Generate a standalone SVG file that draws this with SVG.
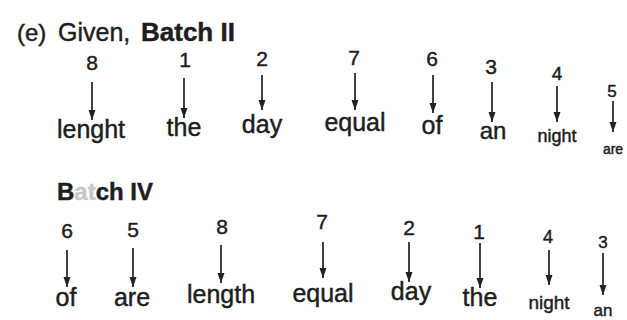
<svg xmlns="http://www.w3.org/2000/svg" width="627" height="320" viewBox="0 0 627 320">
<style>
  text { font-family: "Liberation Sans", Arial, sans-serif; fill: #1e1e1e; stroke: #1e1e1e; stroke-width: 0.45; }
  .num { font-size: 21px; text-anchor: middle; }
  .num-s { font-size: 17px; text-anchor: middle; }
  .word { font-size: 25px; text-anchor: middle; }
  .word-s { font-size: 18px; text-anchor: middle; }
  .word-xs { font-size: 14px; text-anchor: middle; }
  .head { font-size: 25px; }
  .bold { font-weight: bold; }
  .arrow { stroke: #222; stroke-width: 1.7; fill: none; marker-end: url(#ah); }
</style>
<defs>
  <marker id="ah" markerUnits="userSpaceOnUse" markerWidth="11" markerHeight="8" refX="10" refY="3.5" orient="auto">
    <path d="M0,0 L10,3.5 L0,7 z" fill="#222"/>
  </marker>
</defs>
<rect width="627" height="320" fill="#ffffff"/>

<g id="title1">
  <text x="17" y="41" style="font-size:24px">(e)</text>
  <text x="58" y="41" class="head">Given,</text>
  <text x="141" y="41" class="head bold" style="font-size:26px">Batch II</text>
</g>

<g id="title2">
  <text x="57" y="200" class="head bold" style="font-size:24px">B<tspan fill="#c8c8c8" stroke="#c8c8c8">at</tspan>ch IV</text>
</g>

<!-- Row 1 nodes -->
<g id="r1-8"><text x="92" y="70" class="num">8</text><text x="91" y="138" class="word">lenght</text></g>
<g id="r1-1"><text x="185" y="67" class="num">1</text><text x="184" y="136" class="word">the</text></g>
<g id="r1-2"><text x="262" y="66" class="num">2</text><text x="262" y="133" class="word">day</text></g>
<g id="r1-7"><text x="354" y="65" class="num">7</text><text x="355" y="131" class="word">equal</text></g>
<g id="r1-6"><text x="432" y="66" class="num">6</text><text x="432" y="134" class="word">of</text></g>
<g id="r1-3"><text x="491" y="74" class="num">3</text><text x="493" y="139" class="word" style="font-size:24px">an</text></g>
<g id="r1-4"><text x="557" y="80" class="num" style="font-size:19px">4</text><text x="557" y="142" class="word-s">night</text></g>
<g id="r1-5"><text x="612" y="97" class="num-s">5</text><text x="613" y="154" class="word-xs">are</text></g>

<!-- Row 2 nodes -->
<g id="r2-6"><text x="67" y="238" class="num">6</text><text x="66" y="306" class="word">of</text></g>
<g id="r2-5"><text x="133" y="237" class="num">5</text><text x="132" y="306" class="word">are</text></g>
<g id="r2-8"><text x="222" y="234" class="num">8</text><text x="221" y="303" class="word">length</text></g>
<g id="r2-7"><text x="322" y="229" class="num">7</text><text x="323" y="302" class="word">equal</text></g>
<g id="r2-2"><text x="409" y="235" class="num">2</text><text x="411" y="300" class="word">day</text></g>
<g id="r2-1"><text x="479" y="239" class="num">1</text><text x="480" y="306" class="word">the</text></g>
<g id="r2-4"><text x="548" y="243" class="num" style="font-size:18px">4</text><text x="549" y="309" class="word" style="font-size:19px">night</text></g>
<g id="r2-3"><text x="603" y="248" class="num-s">3</text><text x="603" y="316" class="word" style="font-size:17px">an</text></g>

<g id="connectors">
  <line class="arrow" x1="92" y1="82" x2="92" y2="120"/>
  <line class="arrow" x1="184" y1="78" x2="184" y2="118"/>
  <line class="arrow" x1="262" y1="75" x2="262" y2="110"/>
  <line class="arrow" x1="355" y1="73" x2="355" y2="110"/>
  <line class="arrow" x1="433" y1="75" x2="433" y2="113"/>
  <line class="arrow" x1="492" y1="82" x2="492" y2="122"/>
  <line class="arrow" x1="557" y1="86" x2="557" y2="122"/>
  <line class="arrow" x1="613" y1="101" x2="613" y2="132"/>

  <line class="arrow" x1="67" y1="250" x2="67" y2="287"/>
  <line class="arrow" x1="133" y1="248" x2="133" y2="287"/>
  <line class="arrow" x1="221" y1="245" x2="221" y2="283"/>
  <line class="arrow" x1="323" y1="242" x2="323" y2="278"/>
  <line class="arrow" x1="409" y1="242" x2="409" y2="282"/>
  <line class="arrow" x1="480" y1="243" x2="480" y2="288"/>
  <line class="arrow" x1="549" y1="250" x2="549" y2="285"/>
  <line class="arrow" x1="603" y1="253" x2="603" y2="295"/>
</g>
</svg>
